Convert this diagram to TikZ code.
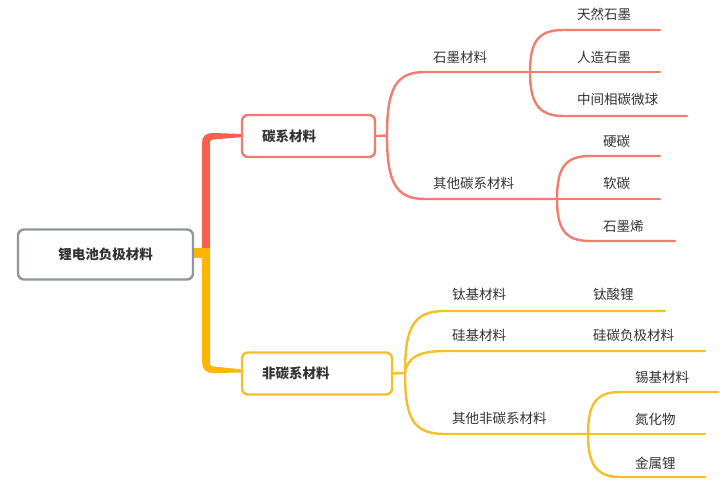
\documentclass[tikz,border=0pt]{standalone}
\usepackage{fontspec}
\setmainfont{Noto Sans CJK SC}
\definecolor{redln}{HTML}{EF7E6E}
\definecolor{redtr}{HTML}{F7604F}
\definecolor{yelln}{HTML}{F3C02C}
\definecolor{yeltr}{HTML}{FDB600}
\definecolor{grayb}{HTML}{8E96A0}
\definecolor{txt}{HTML}{333333}
\begin{document}
\begin{tikzpicture}[x=1pt,y=-1pt,
  lbl/.style={anchor=west,inner sep=0pt,text=txt,font=\fontsize{13.5}{14}\selectfont},
  boxnode/.style={rectangle,rounded corners=6pt,line width=2.4pt,fill=white,
     inner xsep=20pt,inner ysep=0pt,minimum height=42pt,text=txt,align=left,
     font=\fontsize{13.5}{14}\selectfont\bfseries},
  rbr/.style={draw=redln,line width=2.4pt,line cap=round},
  ybr/.style={draw=yelln,line width=2.4pt,line cap=round}]
\useasboundingbox (0,0) rectangle (723,487);
\fill[white] (0,0) rectangle (723,487);

% trunk
\fill[yeltr] (192,248) rectangle (206,258);
\fill[redtr] (202,249) -- (202,143) .. controls (202,136) and (206,133) .. (213,133)
  -- (243,134) -- (243,137) -- (213,139.5) .. controls (210.5,139.5) and (210,140.5) .. (210,143)
  -- (210,249) -- cycle;
\fill[yeltr] (202,248) -- (202,362) .. controls (202,369) and (206,373) .. (213,373)
  -- (243,372.5) -- (243,369.5) -- (213,366.5) .. controls (210.5,366.5) and (210,365.5) .. (210,362)
  -- (210,248) -- cycle;

% boxes
\node[boxnode,draw=grayb,minimum width=175pt,minimum height=50pt,align=center,inner xsep=0pt] (root) at (105.5,254.5) {锂电池负极材料};
\node[boxnode,draw=redln,text width=93pt] (carbon) at (308.5,136) {碳系材料};
\node[boxnode,draw=yelln,text width=110pt] (noncarbon) at (317,373.5) {非碳系材料};

% red branches
\coordinate (jc) at (387,135.5);
\coordinate (jg) at (530,72);
\coordinate (jo) at (557,199);
\draw[rbr] (carbon.east) -- (jc);
\draw[rbr] (jc) .. controls (387,88) and (396,72) .. (425,72) -- (jg);
\draw[rbr] (jc) .. controls (387,183) and (396,199) .. (425,199) -- (jo);
\coordinate (e1) at (660,30);
\coordinate (e2) at (660,72);
\coordinate (e3) at (687,116);
\draw[rbr] (jg) .. controls (530,42) and (538,30) .. (563,30) -- (e1);
\draw[rbr] (jg) -- (e2);
\draw[rbr] (jg) .. controls (530,102) and (538,116) .. (563,116) -- (e3);
\coordinate (e4) at (660,156);
\coordinate (e5) at (660,199);
\coordinate (e6) at (675,241);
\draw[rbr] (jo) .. controls (557,168) and (565,156) .. (590,156) -- (e4);
\draw[rbr] (jo) -- (e5);
\draw[rbr] (jo) .. controls (557,229) and (565,241) .. (590,241) -- (e6);

% yellow branches
\coordinate (jn) at (405,373);
\coordinate (jx) at (588,434);
\coordinate (f1) at (665,311);
\coordinate (f2) at (705,351);
\draw[ybr] (noncarbon.east) -- (jn);
\draw[ybr] (jn) .. controls (405,326) and (414,311) .. (445,311) -- (f1);
\draw[ybr] (jn) .. controls (407,358) and (418,351) .. (445,351) -- (f2);
\draw[ybr] (jn) .. controls (405,420) and (414,434) .. (445,434) -- (jx);
\coordinate (f3) at (718,392);
\coordinate (f4) at (705,434);
\coordinate (f5) at (705,477);
\draw[ybr] (jx) .. controls (588,404) and (596,392) .. (620,392) -- (f3);
\draw[ybr] (jx) -- (f4);
\draw[ybr] (jx) .. controls (588,464) and (596,477) .. (620,477) -- (f5);

% labels
\node[lbl] (t1) at (433,57) {石墨材料};
\node[lbl] (t2) at (433,183) {其他碳系材料};
\node[lbl] (t3) at (577,14) {天然石墨};
\node[lbl] (t4) at (577,57) {人造石墨};
\node[lbl] (t5) at (577,99) {中间相碳微球};
\node[lbl] (t6) at (603,141) {硬碳};
\node[lbl] (t7) at (603,183) {软碳};
\node[lbl] (t8) at (603,226) {石墨烯};
\node[lbl] (u1) at (452,294) {钛基材料};
\node[lbl] (u2) at (593,294) {钛酸锂};
\node[lbl] (u3) at (452,335) {硅基材料};
\node[lbl] (u4) at (593,335) {硅碳负极材料};
\node[lbl] (u5) at (452,418) {其他非碳系材料};
\node[lbl] (u6) at (635,377) {锡基材料};
\node[lbl] (u7) at (635,419) {氮化物};
\node[lbl] (u8) at (635,463) {金属锂};
\end{tikzpicture}
\end{document}
